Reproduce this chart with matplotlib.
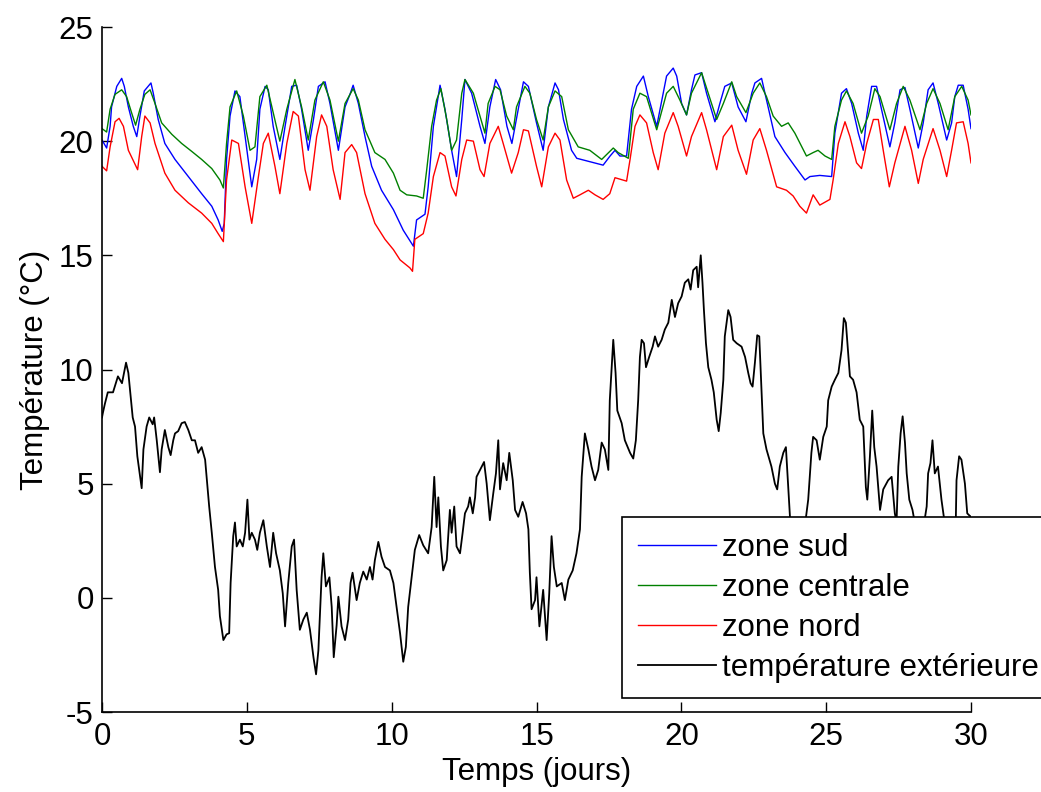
import matplotlib
matplotlib.use("Agg")
import matplotlib.pyplot as plt

plt.rcParams['font.family'] = ['Liberation Sans', 'DejaVu Sans']
plt.rcParams['axes.unicode_minus'] = False

# ===================== données =====================
# zone sud (bleu)
t_sud = [0, 0.16, 0.28, 0.33, 0.51, 0.68, 0.77, 0.91, 1.08, 1.2,
         1.31, 1.46, 1.69, 1.77, 1.94, 2.17, 2.52, 2.98, 3.44, 3.79,
         4.01, 4.15, 4.22, 4.3, 4.42, 4.59, 4.76, 4.94, 5.17, 5.34,
         5.45, 5.63, 5.74, 5.91, 6.14, 6.32, 6.55, 6.72, 6.89, 7.12,
         7.3, 7.47, 7.7, 7.87, 8.16, 8.39, 8.56, 8.67, 8.85, 9.08,
         9.31, 9.65, 10.06, 10.4, 10.75, 10.86, 11.15, 11.26, 11.44, 11.67,
         11.84, 12.07, 12.24, 12.42, 12.53, 12.76, 13.05, 13.22, 13.39, 13.59,
         13.76, 13.98, 14.15, 14.37, 14.55, 14.72, 15.0, 15.23, 15.41, 15.64,
         15.76, 15.93, 16.21, 16.39, 16.84, 17.3, 17.54, 17.71, 17.88, 18.11,
         18.28, 18.46, 18.69, 18.86, 19.15, 19.49, 19.72, 19.84, 20.01, 20.18,
         20.35, 20.47, 20.7, 20.87, 21.16, 21.33, 21.5, 21.74, 21.96, 22.23,
         22.43, 22.54, 22.77, 22.94, 23.23, 23.58, 23.92, 24.27, 24.44, 24.78,
         25.19, 25.3, 25.53, 25.7, 25.88, 26.11, 26.28, 26.4, 26.57, 26.74,
         26.91, 27.2, 27.37, 27.55, 27.72, 27.89, 28.18, 28.35, 28.52, 28.69,
         28.87, 29.16, 29.33, 29.44, 29.56, 29.73, 29.9, 30.0]
T_sud = [20.05, 19.7, 20.65, 21.5, 22.4, 22.75, 22.4, 21.5, 20.65, 20.2,
         21.1, 22.2, 22.55, 22.1, 20.95, 19.9, 19.2, 18.45, 17.7, 17.15,
         16.55, 16.05, 16.4, 19.2, 21.1, 22.2, 21.95, 20.2, 18.0, 19.2,
         21.4, 22.4, 22.25, 20.65, 19.2, 20.65, 22.4, 22.45, 21.4, 19.6,
         20.95, 22.4, 22.6, 21.65, 19.6, 21.5, 22.05, 22.45, 21.65, 20.2,
         18.9, 17.85, 17.0, 16.1, 15.4, 16.55, 16.8, 18.0, 20.65, 22.45,
         21.4, 19.6, 18.45, 20.95, 22.7, 22.1, 20.65, 19.9, 21.5, 22.7,
         22.25, 20.65, 19.9, 21.4, 22.6, 22.4, 20.8, 19.6, 21.5, 22.55,
         22.25, 20.95, 19.6, 19.25, 19.1, 18.95, 19.35, 19.6, 19.35, 19.35,
         21.4, 22.4, 22.85, 21.95, 20.65, 22.85, 23.2, 22.85, 21.65, 21.15,
         22.25, 22.9, 23.0, 22.1, 20.85, 21.65, 22.4, 22.55, 21.5, 20.85,
         22.1, 22.55, 22.75, 21.8, 20.2, 19.5, 18.9, 18.3, 18.45, 18.5,
         18.45, 20.35, 22.1, 22.3, 21.65, 20.35, 19.6, 21.1, 22.4, 22.4,
         21.4, 19.75, 20.8, 22.25, 22.35, 21.4, 19.7, 20.8, 22.25, 22.55,
         21.65, 20.05, 20.8, 21.95, 22.45, 22.45, 21.4, 20.55]

# zone centrale (vert)
t_centre = [0, 0.16, 0.28, 0.45, 0.68, 0.85, 1.02, 1.16, 1.31, 1.48,
            1.66, 1.83, 2.06, 2.41, 2.75, 3.1, 3.44, 3.79, 4.07, 4.19,
            4.3, 4.42, 4.65, 4.88, 5.11, 5.28, 5.45, 5.69, 5.91, 6.14,
            6.38, 6.66, 6.89, 7.12, 7.35, 7.64, 7.87, 8.16, 8.39, 8.67,
            8.85, 9.08, 9.42, 9.77, 10.06, 10.29, 10.52, 10.86, 11.09, 11.21,
            11.38, 11.55, 11.7, 11.9, 12.07, 12.24, 12.42, 12.53, 12.82, 13.05,
            13.22, 13.33, 13.57, 13.74, 13.97, 14.2, 14.31, 14.6, 14.77, 15.0,
            15.23, 15.41, 15.64, 15.87, 16.1, 16.44, 16.84, 17.25, 17.65, 17.82,
            18.17, 18.34, 18.57, 18.8, 19.15, 19.49, 19.72, 19.95, 20.18, 20.35,
            20.7, 20.93, 21.22, 21.45, 21.74, 21.91, 22.23, 22.48, 22.71, 22.94,
            23.17, 23.46, 23.69, 23.92, 24.32, 24.55, 24.72, 24.96, 25.19, 25.3,
            25.53, 25.7, 25.93, 26.22, 26.45, 26.68, 26.86, 27.2, 27.43, 27.66,
            27.89, 28.24, 28.47, 28.69, 28.93, 29.21, 29.44, 29.68, 29.9, 30.0]
T_centre = [20.55, 20.4, 21.4, 22.05, 22.25, 21.95, 21.25, 20.7, 21.4, 22.05,
            22.25, 21.65, 20.8, 20.3, 19.9, 19.55, 19.2, 18.8, 18.3, 17.95,
            19.9, 21.5, 22.2, 21.1, 19.6, 19.75, 21.95, 22.45, 21.25, 20.0,
            21.4, 22.7, 21.5, 20.05, 21.8, 22.6, 21.8, 20.0, 21.65, 22.3,
            21.8, 20.5, 19.5, 19.2, 18.6, 17.85, 17.65, 17.6, 17.5, 18.75,
            20.65, 21.8, 22.3, 20.95, 19.6, 20.05, 22.1, 22.7, 22.1, 21.1,
            20.35, 21.65, 22.4, 22.25, 21.1, 20.5, 21.5, 22.4, 22.1, 20.95,
            20.05, 21.5, 22.2, 21.95, 20.5, 19.75, 19.6, 19.2, 19.7, 19.5,
            19.25, 21.4, 22.1, 21.95, 20.5, 22.1, 22.4, 21.8, 21.15, 22.1,
            23.0, 22.1, 20.95, 21.65, 22.6, 21.95, 21.25, 22.1, 22.55, 21.95,
            21.1, 20.65, 20.8, 20.35, 19.35, 19.5, 19.6, 19.35, 19.2, 20.65,
            21.8, 22.2, 21.65, 20.35, 21.1, 22.3, 21.95, 20.5, 21.65, 22.4,
            21.8, 20.5, 21.65, 22.3, 21.65, 20.5, 21.95, 22.4, 21.8, 21.15]

# zone nord (rouge)
t_nord = [0, 0.16, 0.28, 0.45, 0.59, 0.74, 0.91, 1.23, 1.37, 1.48,
          1.66, 1.83, 2.17, 2.52, 2.98, 3.44, 3.79, 4.01, 4.19, 4.3,
          4.48, 4.71, 4.94, 5.17, 5.4, 5.57, 5.74, 5.97, 6.14, 6.38,
          6.6, 6.78, 7.01, 7.18, 7.41, 7.58, 7.76, 7.98, 8.22, 8.39,
          8.62, 8.79, 9.08, 9.42, 9.77, 10.06, 10.29, 10.63, 10.72, 10.8,
          11.09, 11.26, 11.44, 11.67, 11.84, 12.07, 12.22, 12.42, 12.59, 12.82,
          13.05, 13.19, 13.39, 13.68, 13.85, 14.14, 14.37, 14.55, 14.72, 15.0,
          15.18, 15.41, 15.64, 15.81, 16.04, 16.27, 16.5, 16.79, 17.02, 17.3,
          17.53, 17.71, 18.11, 18.23, 18.4, 18.57, 18.8, 19.03, 19.2, 19.43,
          19.72, 19.89, 20.18, 20.35, 20.7, 20.87, 21.22, 21.45, 21.74, 21.96,
          22.25, 22.48, 22.71, 22.94, 23.29, 23.63, 23.86, 24.09, 24.32, 24.55,
          24.78, 25.13, 25.24, 25.42, 25.65, 25.82, 26.05, 26.22, 26.4, 26.63,
          26.8, 26.97, 27.18, 27.37, 27.72, 27.95, 28.18, 28.35, 28.69, 28.93,
          29.16, 29.33, 29.5, 29.73, 29.9, 30.0]
T_nord = [18.9, 18.7, 19.75, 20.85, 21.0, 20.65, 19.6, 18.75, 20.2, 21.1,
          20.8, 19.9, 18.6, 17.85, 17.3, 16.85, 16.4, 15.95, 15.6, 18.3,
          20.05, 19.9, 18.0, 16.4, 18.45, 19.9, 20.35, 18.9, 17.7, 19.9,
          21.3, 21.1, 18.75, 17.85, 20.2, 21.15, 20.65, 18.75, 17.45, 19.5,
          19.85, 19.5, 17.7, 16.4, 15.7, 15.25, 14.8, 14.45, 14.3, 15.7,
          15.95, 16.85, 18.45, 19.5, 19.35, 18.0, 17.6, 19.2, 20.05, 20.0,
          18.75, 18.45, 19.9, 20.65, 19.9, 18.6, 19.5, 20.5, 20.45, 18.9,
          18.0, 19.75, 20.35, 20.05, 18.3, 17.5, 17.65, 17.85, 17.65, 17.45,
          17.7, 18.4, 18.25, 19.2, 20.65, 21.15, 20.8, 19.5, 18.75, 20.35,
          21.25, 20.65, 19.35, 20.2, 21.25, 20.5, 18.75, 20.2, 20.7, 19.6,
          18.55, 20.05, 20.55, 19.6, 18.0, 17.85, 17.6, 17.15, 16.85, 17.65,
          17.2, 17.45, 18.3, 19.9, 20.85, 20.2, 19.05, 18.8, 19.9, 20.95,
          20.95, 19.6, 18.0, 19.05, 20.65, 19.6, 18.15, 19.2, 20.55, 19.6,
          18.45, 19.6, 20.8, 20.85, 19.9, 19.05]

# température extérieure (noir)
t_ext = [0.0, 0.03, 0.1, 0.2, 0.38, 0.55, 0.69, 0.83, 0.91, 0.99,
         1.06, 1.14, 1.22, 1.37, 1.43, 1.54, 1.63, 1.75, 1.8, 1.89,
         2.0, 2.06, 2.17, 2.29, 2.37, 2.46, 2.52, 2.63, 2.75, 2.86,
         2.98, 3.1, 3.21, 3.32, 3.44, 3.56, 3.61, 3.7, 3.79, 3.9,
         4.01, 4.07, 4.19, 4.3, 4.39, 4.44, 4.53, 4.59, 4.65, 4.76,
         4.86, 4.94, 5.02, 5.09, 5.17, 5.28, 5.36, 5.45, 5.57, 5.69,
         5.8, 5.91, 6.01, 6.14, 6.24, 6.32, 6.43, 6.55, 6.63, 6.72,
         6.83, 6.95, 7.07, 7.18, 7.3, 7.39, 7.47, 7.58, 7.64, 7.73,
         7.85, 7.93, 8.0, 8.1, 8.16, 8.27, 8.39, 8.5, 8.58, 8.65,
         8.79, 8.9, 9.02, 9.14, 9.25, 9.34, 9.42, 9.54, 9.65, 9.77,
         9.94, 10.06, 10.17, 10.29, 10.4, 10.49, 10.57, 10.69, 10.8, 10.95,
         11.09, 11.26, 11.38, 11.47, 11.55, 11.61, 11.7, 11.78, 11.9, 12.01,
         12.07, 12.16, 12.24, 12.36, 12.45, 12.53, 12.64, 12.7, 12.8, 12.88,
         12.93, 13.05, 13.19, 13.28, 13.39, 13.51, 13.6, 13.68, 13.74, 13.85,
         13.97, 14.06, 14.18, 14.26, 14.37, 14.52, 14.64, 14.72, 14.77, 14.83,
         14.95, 15.0, 15.1, 15.23, 15.35, 15.44, 15.52, 15.6, 15.7, 15.87,
         15.98, 16.1, 16.25, 16.38, 16.5, 16.56, 16.67, 16.79, 16.9, 17.02,
         17.13, 17.25, 17.36, 17.48, 17.53, 17.65, 17.73, 17.79, 17.94, 18.05,
         18.23, 18.34, 18.43, 18.51, 18.57, 18.63, 18.71, 18.78, 18.89, 19.01,
         19.09, 19.2, 19.32, 19.43, 19.55, 19.67, 19.78, 19.89, 20.01, 20.12,
         20.24, 20.32, 20.41, 20.53, 20.58, 20.67, 20.73, 20.78, 20.85, 20.93,
         21.04, 21.12, 21.22, 21.29, 21.36, 21.45, 21.5, 21.62, 21.7, 21.79,
         21.91, 22.08, 22.2, 22.31, 22.39, 22.46, 22.54, 22.62, 22.69, 22.77,
         22.83, 22.94, 23.11, 23.23, 23.31, 23.4, 23.52, 23.61, 23.69, 23.75,
         23.85, 24.0, 24.2, 24.38, 24.49, 24.55, 24.67, 24.78, 24.9, 25.02,
         25.07, 25.19, 25.3, 25.42, 25.53, 25.61, 25.68, 25.76, 25.82, 25.93,
         26.05, 26.16, 26.28, 26.37, 26.42, 26.51, 26.59, 26.66, 26.74, 26.86,
         26.97, 27.14, 27.26, 27.37, 27.43, 27.49, 27.57, 27.64, 27.72, 27.78,
         27.87, 27.98, 28.1, 28.3, 28.47, 28.52, 28.6, 28.67, 28.75, 28.86,
         28.98, 29.1, 29.3, 29.47, 29.5, 29.59, 29.67, 29.79, 29.87, 29.95,
         30.0]
T_ext = [7.9, 8.1, 8.5, 9.0, 9.0, 9.7, 9.4, 10.3, 9.85, 8.8,
         7.9, 7.5, 6.2, 4.8, 6.5, 7.5, 7.9, 7.6, 7.9, 6.9,
         5.5, 6.5, 7.35, 6.6, 6.25, 6.9, 7.2, 7.3, 7.65, 7.7,
         7.35, 6.9, 6.9, 6.35, 6.6, 6.05, 5.3, 4.0, 2.85, 1.35,
         0.35, -0.8, -1.85, -1.6, -1.55, 0.65, 2.7, 3.3, 2.25, 2.55,
         2.25, 2.85, 4.3, 2.55, 2.85, 2.55, 2.1, 2.85, 3.4, 2.25,
         1.35, 2.85, 1.95, 1.2, 0.2, -1.25, 0.65, 2.25, 2.55, 0.35,
         -1.4, -0.95, -0.65, -1.4, -2.6, -3.35, -2.3, 0.9, 1.95, 0.5,
         0.9, -0.4, -2.6, -1.2, 0.05, -1.25, -1.85, -0.95, 0.65, 1.1,
         -0.1, 0.65, 1.15, 0.8, 1.35, 0.8, 1.65, 2.45, 1.8, 1.35,
         1.2, 0.65, -0.4, -1.55, -2.8, -2.15, -0.4, 0.9, 2.1, 2.75,
         2.3, 1.95, 3.1, 5.3, 3.1, 4.4, 2.25, 1.2, 1.65, 3.85,
         2.85, 4.0, 2.25, 1.95, 2.85, 3.7, 4.0, 4.4, 3.7, 4.4,
         5.3, 5.6, 5.95, 5.0, 3.4, 4.6, 5.45, 6.9, 4.75, 5.9,
         5.15, 6.35, 5.15, 3.85, 3.55, 4.2, 3.7, 3.0, 1.1, -0.5,
         -0.1, 0.9, -1.25, 0.35, -1.85, 0.2, 2.7, 1.35, 0.5, 0.65,
         -0.1, 0.8, 1.2, 1.95, 3.0, 5.3, 7.2, 6.5, 5.75, 5.15,
         5.6, 6.8, 6.5, 5.6, 8.65, 11.3, 9.85, 8.2, 7.65, 6.9,
         6.35, 6.1, 6.9, 8.65, 10.55, 11.3, 11.15, 10.1, 10.55, 11.0,
         11.45, 11.0, 11.3, 11.75, 12.05, 13.05, 12.3, 12.9, 13.2, 13.8,
         13.95, 13.5, 14.35, 14.5, 13.6, 15.0, 13.8, 12.6, 11.15, 10.1,
         9.55, 9.0, 7.8, 7.3, 8.1, 9.55, 11.45, 12.6, 12.3, 11.3,
         11.15, 11.0, 10.55, 9.85, 9.4, 9.25, 10.3, 11.5, 11.45, 9.0,
         7.2, 6.5, 5.75, 5.0, 4.75, 5.75, 6.35, 6.6, 4.85, 3.55,
         2.2, 1.5, 2.5, 4.3, 6.35, 7.05, 6.9, 6.05, 7.05, 7.5,
         8.65, 9.25, 9.55, 9.85, 10.85, 12.25, 12.05, 10.7, 9.7, 9.55,
         9.0, 7.8, 7.5, 4.85, 4.3, 6.2, 8.2, 6.6, 5.75, 3.85,
         4.75, 5.15, 5.3, 3.7, 3.3, 5.75, 7.2, 7.95, 6.8, 5.45,
         4.3, 3.85, 3.0, 2.6, 4.0, 5.45, 5.9, 6.9, 5.45, 5.75,
         4.3, 3.2, 2.5, 3.0, 5.15, 6.2, 6.05, 5.0, 3.7, 3.6,
         3.55]

labels = ["zone sud", "zone centrale", "zone nord", "température extérieure"]
x_ticks = [0, 5, 10, 15, 20, 25, 30]
y_ticks = [-5, 0, 5, 10, 15, 20, 25]

FS = 22.5

# ===================== figure =====================
W, H = 1041, 792
fig = plt.figure(figsize=(W / 100, H / 100), dpi=100)
ax = fig.add_axes([102 / W, 1 - 712 / H, (971 - 102) / W, (712 - 27) / H])

ax.plot(t_sud, T_sud, color="#0000ff", lw=1.0, label=labels[0])
ax.plot(t_centre, T_centre, color="#008000", lw=1.0, label=labels[1])
ax.plot(t_nord, T_nord, color="#ff0000", lw=1.0, label=labels[2])
ax.plot(t_ext, T_ext, color="black", lw=1.3, label=labels[3])

ax.set_xlim(0, 30)
ax.set_ylim(-5, 25)
ax.set_xticks(x_ticks)
ax.set_yticks(y_ticks)
ax.spines["top"].set_visible(False)
ax.spines["right"].set_visible(False)
for s in ("left", "bottom"):
    ax.spines[s].set_linewidth(1.2)
ax.tick_params(direction="in", length=7, width=1.0, labelsize=FS)
ax.tick_params(axis="x", pad=7)
ax.tick_params(axis="y", pad=6)

ax.set_xlabel("Temps (jours)", fontsize=FS, labelpad=4)
ax.set_ylabel("Température (°C)", fontsize=FS, labelpad=6)

# légende : le cadre déborde à droite de la figure, comme sur l'original
x0, y_top, y_bot = 622 / W, 1 - 517 / H, 1 - 692 / H
leg = ax.legend(loc="upper left",
                bbox_to_anchor=(x0, y_bot, 1.06 - x0, y_top - y_bot),
                bbox_transform=fig.transFigure, mode="expand",
                fontsize=FS, frameon=True, fancybox=False, edgecolor="black",
                framealpha=1, borderpad=0.5, handlelength=2.5,
                handletextpad=0.2, labelspacing=0.32, borderaxespad=0)
leg.get_frame().set_linewidth(1.2)

fig.savefig("out.png", dpi=100)
